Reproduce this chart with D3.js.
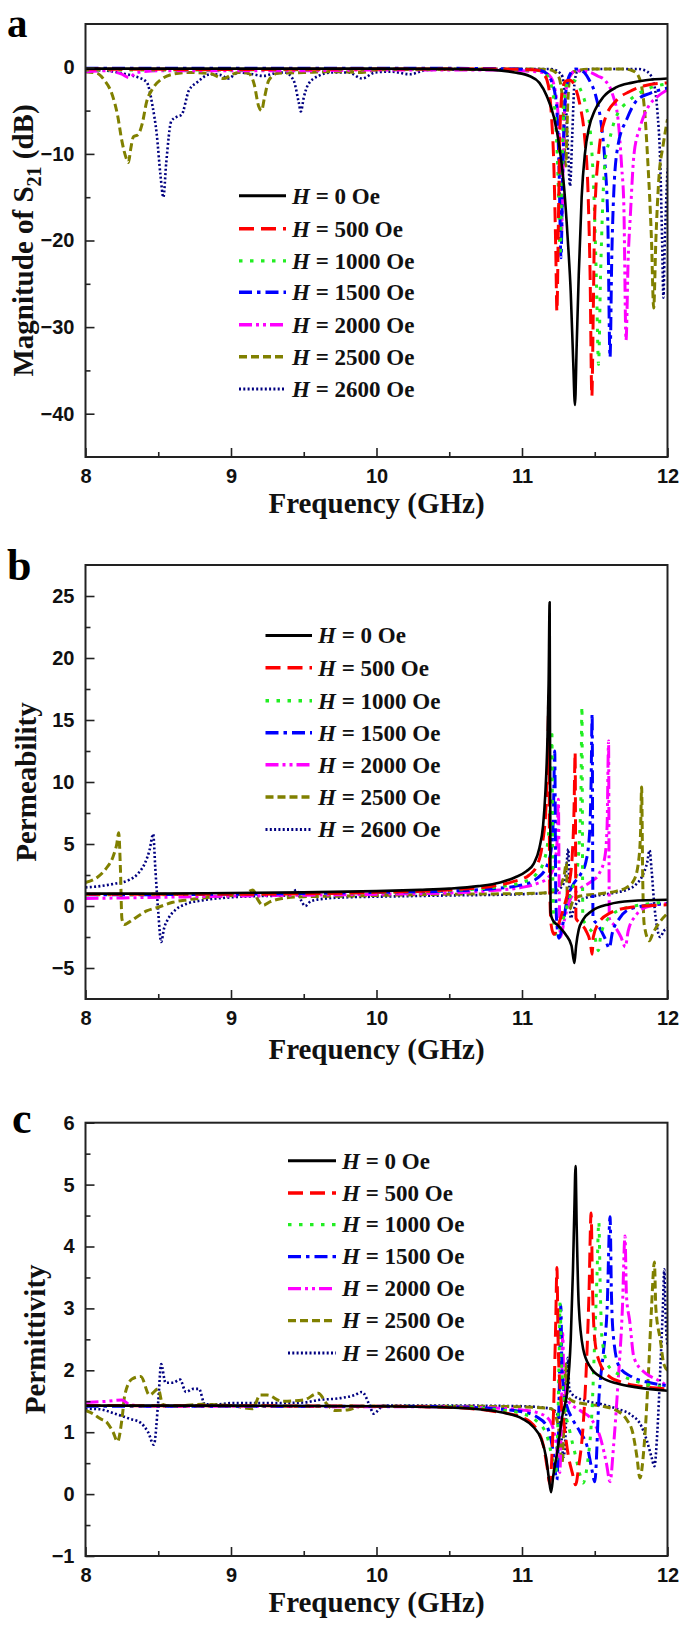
<!DOCTYPE html>
<html><head><meta charset="utf-8">
<script src="https://cdn.jsdelivr.net/npm/d3@7"></script>
<style>body{margin:0;background:#fff} svg{display:block}</style>
</head><body>
<svg id="chart" width="685" height="1625"></svg>
<script>
// ---------- data (frequency in GHz, value) ----------
const freqMajor = [8, 9, 10, 11, 12];
const freqMinor = [8.5, 9.5, 10.5, 11.5];
const fieldLabels = ["0", "500", "1000", "1500", "2000", "2500", "2600"];

const s21Major = [-40, -30, -20, -10, 0];
const s21Minor = [-35, -25, -15, -5];
const muMajor = [-5, 0, 5, 10, 15, 20, 25];
const muMinor = [-2.5, 2.5, 7.5, 12.5, 17.5, 22.5];
const epsMajor = [-1, 0, 1, 2, 3, 4, 5, 6];
const epsMinor = [-0.5, 0.5, 1.5, 2.5, 3.5, 4.5, 5.5];

// Panel a: magnitude of S21 (dB)
const s21_H0 = [[8,-0.15],[9,-0.15],[10,-0.15],[10.5,-0.18],[10.8,-0.3],[10.95,-0.6],[11.05,-1.0],[11.12,-1.8],[11.17,-3.3],[11.22,-5.8],[11.26,-9.5],[11.29,-14],[11.315,-20],[11.335,-26],[11.352,-34],[11.364,-39],[11.376,-32],[11.39,-24],[11.41,-15],[11.433,-9.9],[11.46,-7],[11.5,-5],[11.56,-3.4],[11.65,-2.3],[11.75,-1.8],[11.85,-1.5],[12,-1.3]];
const s21_H500 = [[8,-0.2],[9,-0.25],[10,-0.2],[10.8,-0.2],[11.1,-0.3],[11.15,-0.8],[11.18,-2],[11.2,-5],[11.22,-12],[11.232,-21],[11.24,-28.2],[11.25,-18],[11.26,-8],[11.275,-3],[11.3,-1.6],[11.33,-1.5],[11.37,-2.5],[11.4,-4.5],[11.43,-8],[11.455,-15],[11.468,-24],[11.48,-38],[11.49,-28],[11.5,-17],[11.53,-9.5],[11.57,-6],[11.65,-3.8],[11.74,-2.8],[11.85,-2.1],[12,-1.8]];
const s21_H1000 = [[8,-0.3],[9,-0.3],[10,-0.25],[10.8,-0.25],[11.1,-0.35],[11.15,-0.6],[11.2,-2],[11.23,-6],[11.25,-14],[11.262,-21.8],[11.275,-12],[11.29,-4],[11.31,-1.8],[11.35,-1.5],[11.4,-2.5],[11.44,-4.5],[11.47,-7.5],[11.495,-15],[11.512,-25],[11.526,-34.3],[11.54,-24],[11.57,-11],[11.6,-8.5],[11.64,-6],[11.74,-3.8],[11.85,-2.6],[12,-1.9]];
const s21_H1500 = [[8,-0.1],[9,-0.1],[10,-0.1],[10.8,-0.15],[11.1,-0.3],[11.15,-0.5],[11.2,-1.5],[11.235,-4],[11.255,-12],[11.268,-22],[11.28,-12],[11.3,-3],[11.33,-0.8],[11.37,-0.2],[11.42,-0.5],[11.46,-1.4],[11.51,-3.5],[11.54,-6],[11.57,-11],[11.59,-18],[11.605,-33.5],[11.617,-22],[11.632,-14],[11.66,-9],[11.72,-6],[11.79,-3.8],[11.88,-3],[12,-2.4]];
const s21_H2000 = [[8,-0.5],[8.15,-0.4],[8.25,-0.8],[8.3,-1.2],[8.35,-0.6],[8.5,-0.4],[9,-0.4],[9.5,-0.4],[10,-0.3],[10.8,-0.3],[11.15,-0.6],[11.2,-1.2],[11.24,-4],[11.26,-10],[11.272,-19],[11.285,-9],[11.3,-3],[11.33,-1],[11.37,-0.4],[11.45,-0.5],[11.52,-1],[11.57,-1.5],[11.62,-3],[11.66,-6],[11.685,-11.5],[11.7,-16],[11.715,-31.5],[11.73,-22],[11.745,-17],[11.77,-10],[11.81,-7],[11.87,-4.5],[11.93,-3.4],[12,-2.6]];
const s21_H2500 = [[8,-0.5],[8.08,-0.7],[8.13,-1.5],[8.18,-3],[8.22,-5.5],[8.25,-8.5],[8.28,-10.5],[8.295,-11],[8.31,-9.5],[8.33,-8],[8.36,-7.8],[8.39,-6.5],[8.42,-4],[8.46,-2.5],[8.52,-1.4],[8.6,-0.8],[8.7,-0.6],[8.85,-0.7],[8.95,-1.3],[9.0,-0.9],[9.05,-0.6],[9.12,-0.7],[9.16,-2],[9.19,-4.5],[9.21,-5],[9.23,-3.5],[9.26,-1.5],[9.32,-0.7],[9.5,-0.6],[9.7,-0.5],[9.9,-0.6],[10,-0.3],[10.5,-0.2],[11.1,-0.2],[11.2,-0.3],[11.25,-1],[11.28,-4],[11.3,-11.4],[11.315,-4],[11.33,-1],[11.37,-0.4],[11.5,-0.2],[11.7,-0.2],[11.76,-0.4],[11.8,-1],[11.84,-4.5],[11.865,-11],[11.89,-20],[11.905,-27.8],[11.92,-20],[11.94,-13],[11.97,-9],[12,-6]];
const s21_H2600 = [[8,-0.3],[8.15,-0.4],[8.25,-0.7],[8.33,-1],[8.42,-1.7],[8.46,-4.4],[8.49,-7.8],[8.515,-12.4],[8.535,-15],[8.555,-11],[8.59,-6.2],[8.63,-5.7],[8.66,-5.5],[8.71,-2.7],[8.77,-1.7],[8.86,-0.8],[8.93,-0.9],[8.98,-1.3],[9.05,-0.6],[9.15,-0.8],[9.22,-1],[9.3,-0.7],[9.37,-0.6],[9.43,-1.5],[9.465,-4],[9.48,-5.1],[9.5,-3.5],[9.53,-2],[9.6,-1],[9.69,-0.6],[9.81,-0.6],[9.9,-1.3],[9.99,-0.6],[10.1,-0.5],[10.23,-0.8],[10.35,-0.3],[11.2,-0.2],[11.27,-0.8],[11.3,-4],[11.315,-9],[11.33,-13.7],[11.345,-8],[11.36,-2],[11.38,-0.5],[11.5,-0.2],[11.8,-0.2],[11.86,-0.5],[11.9,-1.5],[11.93,-5],[11.95,-11],[11.963,-20],[11.972,-26.6],[11.98,-21],[11.99,-16],[12,-11.7]];

// Panel b: permeability
const mu_H0 = [[8,1.0],[8.5,1.0],[9,1.05],[9.5,1.1],[10,1.2],[10.3,1.3],[10.5,1.4],[10.7,1.6],[10.85,1.9],[10.95,2.3],[11.03,2.8],[11.08,3.4],[11.12,4.7],[11.145,6.5],[11.16,9],[11.175,13.5],[11.183,18],[11.19,24.5],[11.196,-0.5],[11.21,-1.1],[11.25,-1.6],[11.3,-2.3],[11.34,-3.2],[11.36,-4.6],[11.372,-3.2],[11.39,-1.9],[11.42,-1.1],[11.48,-0.4],[11.6,0.15],[11.75,0.4],[12,0.5]];
const mu_H500 = [[8,0.95],[9,0.95],[10,1.1],[10.5,1.3],[10.8,1.6],[10.95,2.0],[11.05,2.5],[11.1,3.2],[11.14,5],[11.165,8],[11.177,12],[11.184,17],[11.19,2],[11.2,-1.5],[11.22,-2.3],[11.25,-1.5],[11.29,0],[11.32,1.5],[11.345,4],[11.358,8],[11.365,12.4],[11.371,-1],[11.4,-1.4],[11.44,-2],[11.47,-3],[11.482,-3.9],[11.49,-2.5],[11.52,-1.5],[11.6,-0.6],[11.75,-0.1],[12,0.1]];
const mu_H1000 = [[8,0.9],[9,0.95],[10,1.1],[10.5,1.25],[10.8,1.5],[11,1.9],[11.1,2.6],[11.15,3.6],[11.18,5.5],[11.195,8.5],[11.205,14.2],[11.212,2],[11.22,-1.5],[11.24,-2.4],[11.27,-1.5],[11.31,0],[11.35,1.5],[11.38,3],[11.395,5.5],[11.405,9],[11.412,16.1],[11.418,-1],[11.44,-1.5],[11.5,-2.5],[11.525,-3.6],[11.54,-2.5],[11.58,-1.2],[11.7,-0.2],[12,0.3]];
const mu_H1500 = [[8,0.9],[9,0.95],[10,1.1],[10.5,1.2],[10.8,1.4],[11,1.7],[11.1,2.2],[11.17,3.2],[11.2,4.5],[11.215,7],[11.225,12.5],[11.232,1],[11.24,-1.5],[11.255,-2.6],[11.28,-1.5],[11.31,0.5],[11.35,1.7],[11.4,2.5],[11.44,3.6],[11.465,6],[11.475,10],[11.482,15.5],[11.488,-1],[11.52,-1.5],[11.57,-2.6],[11.6,-3.4],[11.62,-2.2],[11.67,-1],[11.75,-0.2],[12,0.2]];
const mu_H2000 = [[8,0.6],[8.5,0.7],[9,0.8],[10,0.95],[10.5,1.05],[10.8,1.25],[11,1.5],[11.1,1.8],[11.18,2.3],[11.22,3.2],[11.24,5],[11.25,8.6],[11.256,1],[11.265,-2.5],[11.29,-1.2],[11.33,0.5],[11.4,1.4],[11.48,2],[11.53,2.6],[11.57,4],[11.585,6.5],[11.595,13.3],[11.6,-1],[11.63,-1.5],[11.68,-2.5],[11.71,-3.3],[11.73,-2],[11.78,-0.8],[11.85,-0.1],[12,0.2]];
const mu_H2500 = [[8,1.9],[8.08,2.3],[8.14,3],[8.19,4],[8.215,5],[8.228,5.9],[8.24,3],[8.25,-1],[8.265,-1.5],[8.3,-1.3],[8.35,-0.9],[8.42,-0.4],[8.5,-0.1],[8.6,0.3],[8.7,0.5],[8.85,0.7],[9.0,0.85],[9.1,1.0],[9.15,1.3],[9.18,0.6],[9.22,0.05],[9.27,0.35],[9.35,0.6],[9.5,0.75],[9.8,0.8],[10,0.85],[10.5,0.95],[11,1.0],[11.2,1.1],[11.26,1.6],[11.29,2.5],[11.305,3.5],[11.312,0.5],[11.325,-0.3],[11.35,0.4],[11.4,0.8],[11.55,1.0],[11.65,1.2],[11.72,1.5],[11.77,2.1],[11.8,3.5],[11.815,6],[11.822,9.6],[11.83,2],[11.84,-1.5],[11.875,-2.8],[11.9,-2.2],[11.94,-1.4],[12,-0.6]];
const mu_H2600 = [[8,1.5],[8.1,1.6],[8.2,1.8],[8.3,2.1],[8.36,2.6],[8.41,3.5],[8.44,4.5],[8.465,5.8],[8.48,3],[8.5,-0.5],[8.52,-2.9],[8.54,-1.8],[8.57,-1.0],[8.62,-0.3],[8.7,0.2],[8.8,0.45],[8.9,0.6],[9.0,0.7],[9.2,0.8],[9.4,0.85],[9.45,1.3],[9.48,0.5],[9.51,0],[9.55,0.4],[9.65,0.6],[9.8,0.7],[10,0.75],[10.5,0.85],[11,0.95],[11.2,1.1],[11.27,1.5],[11.3,2.5],[11.318,4.6],[11.325,1.5],[11.335,-1],[11.35,-0.5],[11.38,0.3],[11.45,0.7],[11.55,0.9],[11.65,1.1],[11.72,1.3],[11.78,1.7],[11.83,2.5],[11.86,3.5],[11.877,4.5],[11.89,3],[11.91,0],[11.925,-1.5],[11.95,-2.5],[11.975,-2],[12,-1.8]];

// Panel c: permittivity
const eps_H0 = [[8,1.43],[9,1.43],[10,1.42],[10.5,1.4],[10.75,1.36],[10.9,1.3],[11.0,1.22],[11.08,1.08],[11.13,0.9],[11.165,0.6],[11.185,0.25],[11.2,0.03],[11.215,0.3],[11.24,0.65],[11.28,1.3],[11.31,1.65],[11.335,2.5],[11.35,3.6],[11.36,4.6],[11.368,5.3],[11.376,4.3],[11.39,3.05],[11.42,2.35],[11.47,2.05],[11.55,1.88],[11.65,1.79],[11.8,1.72],[12,1.67]];
const eps_H500 = [[8,1.43],[10,1.42],[10.5,1.4],[10.8,1.34],[11,1.24],[11.1,1.05],[11.15,0.75],[11.175,0.4],[11.19,0.17],[11.215,1.2],[11.232,2.8],[11.24,3.66],[11.248,2.5],[11.265,1.6],[11.29,1.1],[11.32,0.6],[11.345,0.35],[11.368,0.15],[11.39,0.45],[11.42,1.1],[11.445,2.2],[11.46,3.2],[11.475,4.54],[11.485,3.3],[11.5,2.5],[11.53,2.15],[11.6,1.9],[11.7,1.8],[11.85,1.73],[12,1.7]];
const eps_H1000 = [[8,1.43],[10,1.42],[10.5,1.41],[10.8,1.37],[11,1.3],[11.1,1.18],[11.17,0.95],[11.21,0.55],[11.23,0.3],[11.245,1.0],[11.255,2.2],[11.262,3.1],[11.27,2.2],[11.29,1.5],[11.33,1.0],[11.37,0.6],[11.4,0.3],[11.42,0.18],[11.45,0.5],[11.48,1.3],[11.5,2.5],[11.515,3.5],[11.528,4.4],[11.538,3.3],[11.55,2.5],[11.6,2.05],[11.7,1.9],[11.85,1.78],[12,1.72]];
const eps_H1500 = [[8,1.42],[10,1.42],[10.5,1.41],[10.8,1.38],[11,1.33],[11.1,1.25],[11.17,1.1],[11.21,0.75],[11.24,0.23],[11.252,1.2],[11.26,2.2],[11.267,3.05],[11.275,2.0],[11.3,1.5],[11.35,1.2],[11.4,1.0],[11.45,0.75],[11.48,0.4],[11.5,0.2],[11.53,1.6],[11.56,2.3],[11.585,3.0],[11.605,4.48],[11.615,3.2],[11.63,2.5],[11.67,2.05],[11.75,1.9],[11.88,1.8],[12,1.75]];
const eps_H2000 = [[8,1.48],[8.15,1.5],[8.25,1.52],[8.3,1.45],[8.4,1.42],[9,1.42],[10,1.41],[10.5,1.41],[10.8,1.39],[11,1.36],[11.1,1.32],[11.18,1.22],[11.23,0.9],[11.26,0.35],[11.272,1.5],[11.28,2.6],[11.288,1.8],[11.32,1.5],[11.4,1.35],[11.48,1.2],[11.54,0.9],[11.58,0.5],[11.605,0.2],[11.63,0.8],[11.66,1.8],[11.69,3.0],[11.708,4.17],[11.718,3.2],[11.74,2.8],[11.77,2.2],[11.85,1.95],[11.92,1.86],[12,1.75]];
const eps_H2500 = [[8,1.35],[8.05,1.3],[8.1,1.22],[8.15,1.15],[8.19,1.0],[8.22,0.85],[8.25,1.2],[8.27,1.6],[8.32,1.86],[8.38,1.9],[8.44,1.6],[8.5,1.7],[8.53,1.45],[8.6,1.42],[8.8,1.45],[9.0,1.43],[9.15,1.38],[9.2,1.6],[9.25,1.6],[9.35,1.5],[9.5,1.52],[9.6,1.63],[9.66,1.45],[9.72,1.35],[9.8,1.36],[9.9,1.42],[10,1.42],[10.5,1.42],[11,1.41],[11.2,1.38],[11.25,1.1],[11.275,0.5],[11.29,1.3],[11.3,2.1],[11.31,1.6],[11.35,1.5],[11.45,1.45],[11.55,1.42],[11.65,1.35],[11.72,1.2],[11.76,1.0],[11.79,0.6],[11.81,0.26],[11.84,0.8],[11.87,2.0],[11.89,3.0],[11.91,3.75],[11.92,3.0],[11.95,2.5],[11.975,2.1],[12,2.0]];
const eps_H2600 = [[8,1.38],[8.1,1.37],[8.2,1.3],[8.3,1.22],[8.38,1.15],[8.43,1.0],[8.47,0.8],[8.5,1.5],[8.52,2.1],[8.55,1.8],[8.6,1.8],[8.65,1.85],[8.69,1.65],[8.74,1.7],[8.78,1.7],[8.82,1.45],[8.9,1.45],[9.0,1.47],[9.3,1.47],[9.5,1.48],[9.6,1.52],[9.75,1.55],[9.85,1.6],[9.9,1.65],[9.95,1.45],[9.98,1.3],[10.05,1.43],[10.5,1.43],[11,1.42],[11.2,1.38],[11.26,1.2],[11.285,0.6],[11.3,1.0],[11.315,2.2],[11.325,1.7],[11.35,1.6],[11.45,1.5],[11.55,1.45],[11.65,1.38],[11.75,1.28],[11.82,1.1],[11.86,0.85],[11.89,0.6],[11.91,0.45],[11.93,1.0],[11.95,2.0],[11.968,3.0],[11.978,3.63],[11.988,2.8],[12,2.4]];

// ---------- styles ----------
const styles = [
  {color:"#000000", dash:null, width:2.6},
  {color:"#ff0000", dash:"15,7", width:3},
  {color:"#22ee22", dash:"3.5,7.5", width:3},
  {color:"#0000ff", dash:"13,5,3.5,5", width:3},
  {color:"#ff00ff", dash:"13,4,3,4,3,4", width:3},
  {color:"#808000", dash:"8,4", width:3},
  {color:"#000080", dash:"2,2.3", width:2.6}
];

const X0 = 85.5, X1 = 667.5;
const x = d3.scaleLinear().domain([8, 12]).range([X0, X1]);

const panels = [
  {letter:"a", lx:7, ly:37, lsize:41, top:24, bottom:457, domain:[-45,5], major:s21Major, minor:s21Minor,
   series:[s21_H0,s21_H500,s21_H1000,s21_H1500,s21_H2000,s21_H2500,s21_H2600],
   ytitle:"s21", ytx:23, xty:505,
   leg:{x1:239, x2:286, tx:292, ys:[195.7,228.8,260.9,292.3,324.7,356.7,389.1]}},
  {letter:"b", lx:7, ly:580, lsize:44, top:565, bottom:999, domain:[-7.5,27.5], major:muMajor, minor:muMinor,
   series:[mu_H0,mu_H500,mu_H1000,mu_H1500,mu_H2000,mu_H2500,mu_H2600],
   ytitle:"Permeability", ytx:26, xty:1051,
   leg:{x1:265.5, x2:312, tx:318, ys:[635.4,667.7,700.8,732.7,764.7,797,829.4]}},
  {letter:"c", lx:12, ly:1133, lsize:44, top:1122.7, bottom:1556, domain:[-1,6], major:epsMajor, minor:epsMinor,
   series:[eps_H0,eps_H500,eps_H1000,eps_H1500,eps_H2000,eps_H2500,eps_H2600],
   ytitle:"Permittivity", ytx:35, xty:1604,
   leg:{x1:288, x2:336, tx:342, ys:[1160.7,1193,1224.6,1256.6,1288.6,1320.6,1353]}}
];

const svg = d3.select("#chart");
const serif = "'Liberation Serif','Times New Roman',serif";
const sans = "'Liberation Sans',Arial,sans-serif";

panels.forEach((p, pi) => {
  const y = d3.scaleLinear().domain(p.domain).range([p.bottom, p.top]);
  const g = svg.append("g");

  const clipId = "clip" + pi;
  g.append("clipPath").attr("id", clipId).append("rect")
    .attr("x", X0).attr("y", p.top).attr("width", X1 - X0).attr("height", p.bottom - p.top);

  const line = d3.line().x(d => x(d[0])).y(d => y(d[1])).curve(d3.curveMonotoneX);
  const lg = g.append("g").attr("clip-path", `url(#${clipId})`);
  for (let i = p.series.length - 1; i >= 0; i--) {
    const s = styles[i];
    lg.append("path").datum(p.series[i])
      .attr("d", line).attr("fill", "none")
      .attr("stroke", s.color).attr("stroke-width", s.width)
      .attr("stroke-dasharray", s.dash)
      .attr("stroke-linejoin", "round");
  }

  const styleAxis = sel => {
    sel.select(".domain").remove();
    sel.selectAll(".tick line").attr("stroke", "#222").attr("stroke-width", 1.6);
    sel.selectAll(".tick text").attr("font-family", sans).attr("font-weight", "bold")
      .attr("font-size", 20).attr("fill", "#111");
  };
  g.append("g").attr("transform", `translate(0,${p.bottom})`)
    .call(d3.axisBottom(x).tickValues(freqMajor).tickSize(-9).tickPadding(12).tickFormat(d3.format("d")))
    .call(styleAxis);
  g.append("g").attr("transform", `translate(0,${p.bottom})`)
    .call(d3.axisBottom(x).tickValues(freqMinor).tickSize(-5).tickFormat(""))
    .call(styleAxis);
  g.append("g").attr("transform", `translate(${X0},0)`)
    .call(d3.axisLeft(y).tickValues(p.major).tickSize(-9).tickPadding(11).tickFormat(d3.format("d")))
    .call(styleAxis);
  g.append("g").attr("transform", `translate(${X0},0)`)
    .call(d3.axisLeft(y).tickValues(p.minor).tickSize(-5).tickFormat(""))
    .call(styleAxis);

  g.append("rect").attr("x", X0).attr("y", p.top).attr("width", X1 - X0).attr("height", p.bottom - p.top)
    .attr("fill", "none").attr("stroke", "#222").attr("stroke-width", 2);

  g.append("text").attr("x", p.lx).attr("y", p.ly).text(p.letter)
    .attr("font-family", serif).attr("font-weight", "bold").attr("font-size", p.lsize).attr("fill", "#000");

  g.append("text").attr("x", (X0 + X1) / 2).attr("y", p.xty).attr("dy", "0.28em")
    .attr("text-anchor", "middle").attr("font-family", serif).attr("font-weight", "bold")
    .attr("font-size", 29).attr("fill", "#111").text("Frequency (GHz)");

  const yt = g.append("text")
    .attr("transform", `translate(${p.ytx},${(p.top + p.bottom) / 2}) rotate(-90)`)
    .attr("dy", "0.35em").attr("text-anchor", "middle").attr("font-family", serif)
    .attr("font-weight", "bold").attr("font-size", 29).attr("fill", "#111");
  if (p.ytitle === "s21") {
    yt.append("tspan").text("Magnitude of S");
    yt.append("tspan").attr("dy", 8).attr("font-size", 20).text("21");
    yt.append("tspan").attr("dy", -8).text(" (dB)");
  } else {
    yt.text(p.ytitle);
  }

  const leg = g.append("g");
  fieldLabels.forEach((lab, i) => {
    const s = styles[i];
    const yy = p.leg.ys[i];
    leg.append("line").attr("x1", p.leg.x1).attr("x2", p.leg.x2).attr("y1", yy).attr("y2", yy)
      .attr("stroke", s.color).attr("stroke-width", s.width + 0.4).attr("stroke-dasharray", s.dash);
    const t = leg.append("text").attr("x", p.leg.tx).attr("y", yy).attr("dy", "0.34em")
      .attr("font-family", serif).attr("font-weight", "bold").attr("font-size", 23).attr("fill", "#111");
    t.append("tspan").attr("font-style", "italic").text("H");
    t.append("tspan").text(" = " + lab + " Oe");
  });
});
</script>
</body></html>
